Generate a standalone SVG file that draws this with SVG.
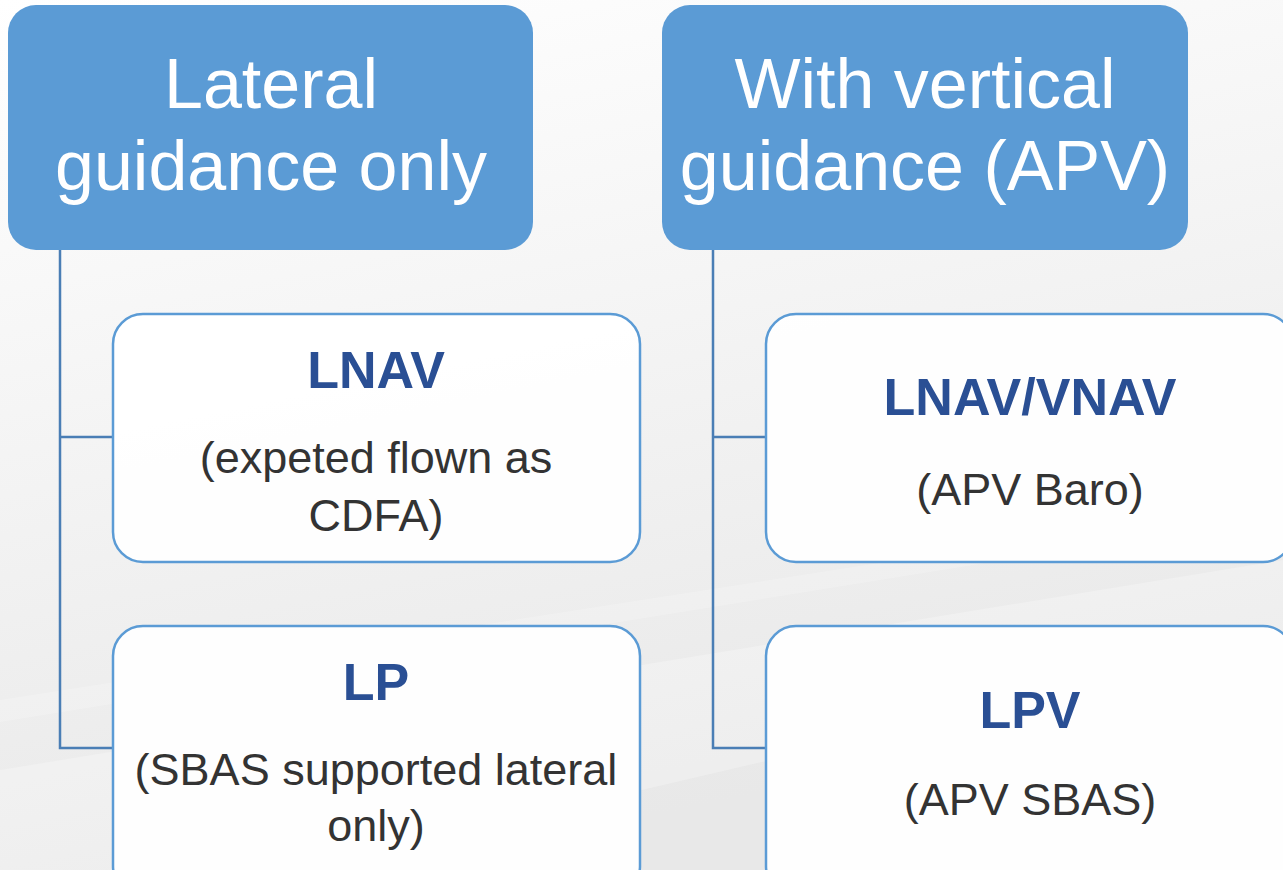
<svg xmlns="http://www.w3.org/2000/svg" width="1283" height="870" viewBox="0 0 1283 870">
<defs>
<linearGradient id="bg" x1="0" y1="0" x2="0.3" y2="1">
<stop offset="0" stop-color="#ffffff"/>
<stop offset="0.35" stop-color="#f7f7f7"/>
<stop offset="1" stop-color="#e8e8e8"/>
</linearGradient>
<style>
.hdr{fill:#5b9bd5;}
.hdrt{font-family:"Liberation Sans",Arial,sans-serif;font-size:70px;fill:#ffffff;text-anchor:middle;}
.child{fill:#ffffff;fill-opacity:0.92;stroke:#5b9bd5;stroke-width:2.5;}
.ct{font-family:"Liberation Sans",Arial,sans-serif;font-size:52px;font-weight:bold;fill:#2a4f94;text-anchor:middle;}
.cs{font-family:"Liberation Sans",Arial,sans-serif;font-size:45px;fill:#333333;text-anchor:middle;}
.conn{fill:none;stroke:#4a7eb5;stroke-width:2.5;}
</style>
</defs>
<rect x="0" y="0" width="1283" height="870" fill="url(#bg)"/>
<polygon points="0,870 0,770 1283,560 1283,640 300,870" fill="#ffffff" fill-opacity="0.25"/>
<polygon points="0,700 1283,500 1283,515 0,722" fill="#ffffff" fill-opacity="0.2"/>
<g id="connectors">
<path class="conn" d="M60,250 V748 H113 M60,437 H113"/>
<path class="conn" d="M713,250 V748 H766 M713,437 H766"/>
</g>
<g id="lateral">
<rect class="hdr" x="8" y="5" width="525" height="245" rx="28"/>
<text class="hdrt" x="271" y="108">Lateral</text>
<text class="hdrt" x="271" y="190">guidance only</text>
</g>
<g id="vertical">
<rect class="hdr" x="662" y="5" width="526" height="245" rx="28"/>
<text class="hdrt" x="925" y="108">With vertical</text>
<text class="hdrt" x="925" y="190">guidance (APV)</text>
</g>
<g id="lnav">
<rect class="child" x="113" y="314" width="527" height="248" rx="30"/>
<text class="ct" x="376" y="388">LNAV</text>
<text class="cs" x="376" y="473">(expeted flown as</text>
<text class="cs" x="376" y="531">CDFA)</text>
</g>
<g id="lp">
<rect class="child" x="113" y="626" width="527" height="270" rx="30"/>
<text class="ct" x="376" y="700">LP</text>
<text class="cs" x="376" y="785">(SBAS supported lateral</text>
<text class="cs" x="376" y="841">only)</text>
</g>
<g id="lnavvnav">
<rect class="child" x="766" y="314" width="527" height="248" rx="30"/>
<text class="ct" x="1030" y="415">LNAV/VNAV</text>
<text class="cs" x="1030" y="505">(APV Baro)</text>
</g>
<g id="lpv">
<rect class="child" x="766" y="626" width="527" height="270" rx="30"/>
<text class="ct" x="1030" y="728">LPV</text>
<text class="cs" x="1030" y="815">(APV SBAS)</text>
</g>
</svg>
